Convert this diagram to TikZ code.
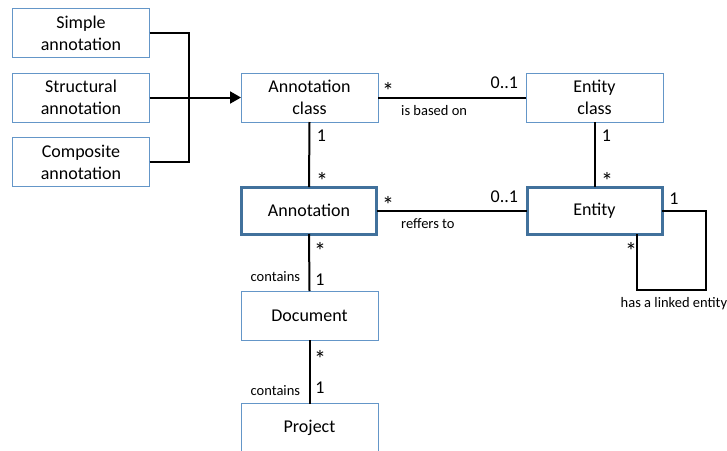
\documentclass[tikz,border=0pt]{standalone}
\usepackage{fontspec}
\setmainfont{Carlito}
\usetikzlibrary{arrows.meta}
\definecolor{thinblue}{RGB}{100,150,200}
\definecolor{thickblue}{RGB}{65,113,156}
\begin{document}
\begin{tikzpicture}[x=1pt,y=-1pt,
  box/.style={draw=thinblue,line width=1pt,minimum width=137pt,minimum height=49pt,inner sep=0pt,outer sep=0pt,align=center,font=\fontsize{18}{22}\selectfont,fill=white},
  tbox/.style={box,draw=thickblue,line width=3pt,minimum width=135pt,minimum height=47pt},
  conn/.style={line width=2pt,black},
  mult/.style={anchor=base,inner sep=0pt,font=\fontsize{18}{22}\selectfont},
  star/.style={anchor=base,inner sep=0pt,font=\fontsize{24}{28}\selectfont,yshift=-14.5pt},
  lab/.style={anchor=base west,inner sep=0pt,font=\fontsize{14.5}{17}\selectfont}]
\useasboundingbox (0,0) rectangle (727,450);

% boxes
\node[box] (simple) at (81,33) {Simple\\annotation};
\node[box] (struct) at (81,97.5) {Structural\\annotation};
\node[box] (comp) at (81,162) {Composite\\annotation};
\node[box] (aclass) at (309.5,97.5) {Annotation\\class};
\node[tbox] (annot) at (309,210.5) {Annotation};
\node[box] (eclass) at (594.5,97.5) {Entity\\class};
\node[tbox] (entity) at (594.5,210.5) {Entity};
\node[box] (doc) at (309.5,315.5) {Document};
\node[box] (proj) at (309.5,428) {Project};

% connectors
\coordinate (j) at (189,97.5);
\draw[conn,line join=miter] (simple.east) -| (j);
\draw[conn,line join=miter] (comp.east) -| (j);
\draw[conn,-{Triangle[length=11pt,width=12pt]}] (struct.east) -- (aclass.west);
\draw[conn] (aclass.east) -- (eclass.west);
\draw[conn] (aclass.south) -- (annot.north);
\draw[conn] (annot.east) -- (entity.west);
\draw[conn] (eclass.south) -- (entity.north);
\draw[conn] (annot.south) -- (doc.north);
\draw[conn] (doc.south) -- (proj.north);
\coordinate (loop) at (706,290);
\draw[conn,line join=miter] (entity.east) -| (loop) -| ([xshift=-25pt]entity.south east);

% multiplicities
\node[star] (m1) at (388,85) {*};
\node[mult,anchor=base west] (m2) at (490.5,88) {0..1};
\node[mult] (m3) at (321.5,141) {1};
\node[star] (m4) at (322,175) {*};
\node[star] (m5) at (388,199) {*};
\node[mult,anchor=base west] (m6) at (490.5,202) {0..1};
\node[mult] (m7) at (606.5,141) {1};
\node[star] (m8) at (607,175) {*};
\node[mult] (m9) at (674,204) {1};
\node[star] (m10) at (631,245) {*};
\node[star] (m11) at (320,245) {*};
\node[mult] (m12) at (320,285) {1};
\node[star] (m13) at (320,353) {*};
\node[mult] (m14) at (320,393) {1};

% labels
\node[lab] (l1) at (401,115) {is based on};
\node[lab] (l2) at (401,228) {reffers to};
\node[lab] (l3) at (250.5,281) {contains};
\node[lab] (l4) at (250.5,395) {contains};
\node[lab] (l5) at (620.5,307) {has a linked entity};
\end{tikzpicture}
\end{document}
